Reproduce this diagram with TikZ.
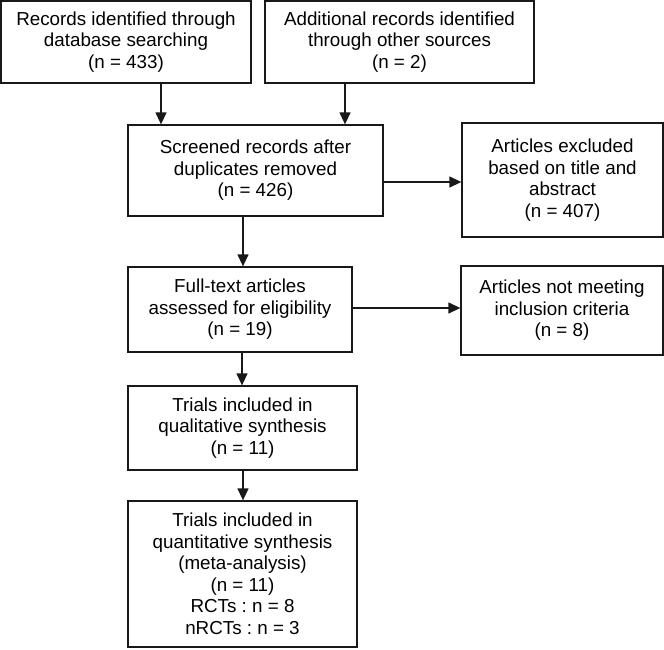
\documentclass[tikz,border=0pt]{standalone}
\usepackage{fontspec}
\setmainfont{Liberation Sans}
\usetikzlibrary{arrows.meta}
\begin{document}
\begin{tikzpicture}[x=1pt,y=-1pt,
  box/.style={draw=black!90,line width=1.3pt,inner sep=0pt,align=center,
    font=\fontsize{18.8}{21.5}\selectfont\frenchspacing},
  arr/.style={draw=black!90,line width=1.3pt,-{Triangle[length=12pt,width=11pt]}}]
\useasboundingbox (0,0) rectangle (664,649);
\node[box,minimum width=250pt,minimum height=82pt] (A) at (126,42)
  {Records identified through\\database searching\\(n = 433)};
\node[box,minimum width=269pt,minimum height=82pt] (B) at (399.5,42)
  {Additional records identified\\through other sources\\(n = 2)};
\node[box,minimum width=255pt,minimum height=91pt] (C) at (255.5,170.5)
  {Screened records after\\duplicates removed\\(n = 426)};
\node[box,minimum width=201pt,minimum height=114pt] (D) at (562.5,180)
  {Articles excluded\\based on title and\\abstract\\(n = 407)};
\node[box,minimum width=224pt,minimum height=85pt] (E) at (240,309.5)
  {Full-text articles\\assessed for eligibility\\(n = 19)};
\node[box,minimum width=202pt,minimum height=89pt] (F) at (562,310.5)
  {Articles not meeting\\inclusion criteria\\(n = 8)};
\node[box,minimum width=229pt,minimum height=84pt] (G) at (242.5,428)
  {Trials included in\\qualitative synthesis\\(n = 11)};
\node[box,minimum width=229pt,minimum height=146pt] (H) at (242.5,574)
  {Trials included in\\quantitative synthesis\\(meta-analysis)\\(n = 11)\\RCTs : n = 8\\nRCTs : n = 3};
\coordinate (xa) at (161,0);
\coordinate (xb) at (345,0);
\coordinate (xc) at (243,0);
\coordinate (xe) at (242,0);
\coordinate (yd) at (0,182);
\coordinate (yf) at (0,308);
\draw[arr] (A.south -| xa) -- (C.north -| xa);
\draw[arr] (B.south -| xb) -- (C.north -| xb);
\draw[arr] (C.east |- yd) -- (D.west |- yd);
\draw[arr] (C.south -| xc) -- (E.north -| xc);
\draw[arr] (E.east |- yf) -- (F.west |- yf);
\draw[arr] (E.south -| xe) -- (G.north -| xe);
\draw[arr] (G.south -| xc) -- (H.north -| xc);
\end{tikzpicture}
\end{document}
